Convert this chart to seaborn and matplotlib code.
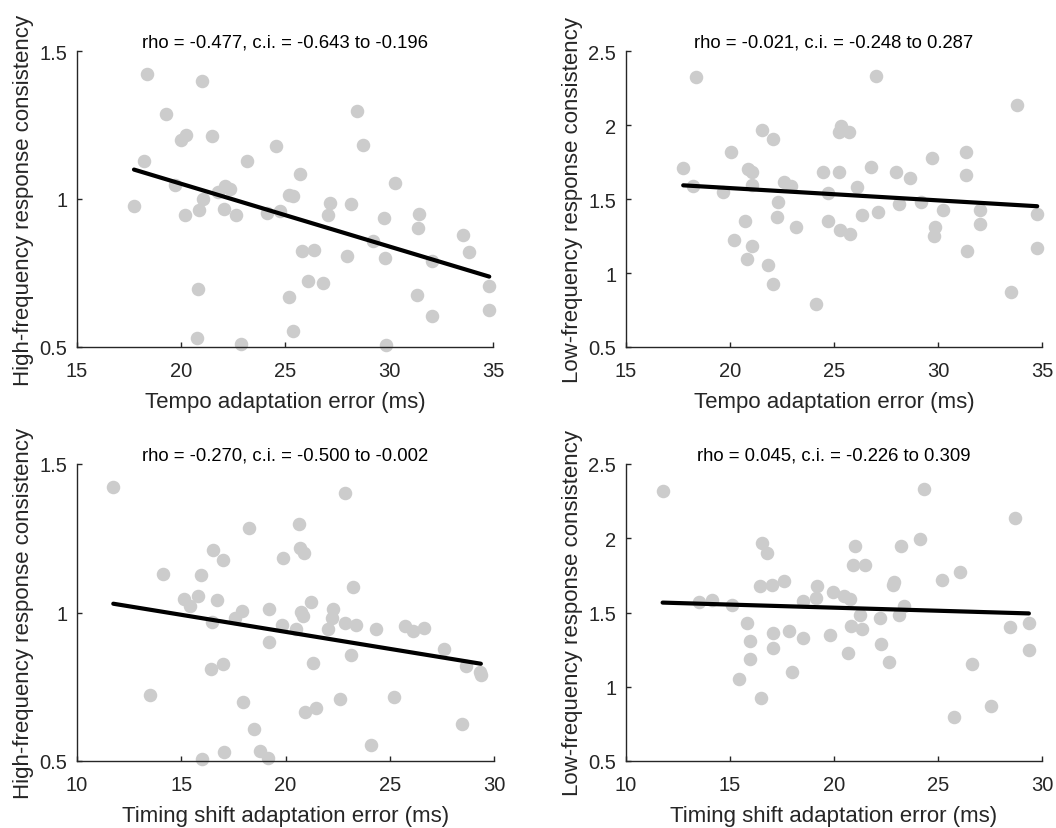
import numpy as np
import pandas as pd
import matplotlib
matplotlib.use("Agg")
import matplotlib.pyplot as plt
from matplotlib.ticker import FuncFormatter, FixedLocator
import seaborn as sns

# ---------------- data ----------------
# Panel A: tempo adaptation error vs high-frequency response consistency
tempo_err_a = [18.38, 21.02, 19.28, 19.98, 20.24, 21.5, 24.57, 18.22, 23.16, 17.74,
               19.71, 21.07, 20.19, 20.88, 21.79, 22.12, 22.36, 22.07, 22.64, 24.12,
               24.76, 25.2, 25.4, 20.83, 25.2, 20.75, 22.87, 25.37, 28.48, 28.73,
               25.72, 27.16, 27.08, 28.16, 30.29, 29.76, 29.25, 31.46, 31.41, 25.8,
               26.39, 28.0, 29.8, 32.05, 33.54, 33.83, 34.82, 34.82, 26.12, 26.81,
               31.36, 32.05, 29.86]
hf_cons_a = [1.422, 1.400, 1.287, 1.200, 1.216, 1.212, 1.178, 1.129, 1.127, 0.977,
             1.047, 1.0, 0.946, 0.963, 1.023, 1.045, 1.034, 0.966, 0.946, 0.953,
             0.960, 1.013, 1.011, 0.696, 0.668, 0.529, 0.510, 0.555, 1.298, 1.182,
             1.084, 0.986, 0.946, 0.983, 1.054, 0.936, 0.859, 0.949, 0.901, 0.825,
             0.829, 0.808, 0.800, 0.792, 0.878, 0.820, 0.707, 0.626, 0.722, 0.716,
             0.677, 0.606, 0.507]

# Panel B: tempo adaptation error vs low-frequency response consistency
tempo_err_b = [18.36, 21.52, 22.08, 20.03, 17.75, 20.87, 21.08, 18.23, 21.08, 19.67,
               22.59, 22.95, 22.32, 22.24, 20.72, 23.17, 20.19, 21.08, 20.83, 21.84,
               22.08, 24.13, 24.47, 27.04, 33.79, 25.36, 25.25, 25.72, 31.33, 31.33,
               29.70, 25.25, 26.80, 27.97, 28.67, 26.11, 24.72, 29.20, 28.13, 30.24,
               32.03, 34.77, 32.03, 26.37, 27.12, 24.72, 29.84, 29.79, 25.31, 25.76,
               31.39, 34.77, 33.49]
lf_cons_b = [2.322, 1.968, 1.905, 1.815, 1.712, 1.703, 1.685, 1.586, 1.595, 1.549,
             1.613, 1.590, 1.482, 1.376, 1.353, 1.309, 1.225, 1.180, 1.095, 1.054,
             0.926, 0.791, 1.684, 2.333, 2.135, 1.995, 1.951, 1.951, 1.816, 1.664,
             1.775, 1.685, 1.718, 1.680, 1.640, 1.579, 1.538, 1.482, 1.466, 1.428,
             1.428, 1.399, 1.331, 1.392, 1.410, 1.353, 1.309, 1.248, 1.293, 1.264,
             1.151, 1.167, 0.874]

# Panel C: timing shift adaptation error vs high-frequency response consistency
shift_err_c = [11.74, 18.27, 16.51, 16.99, 19.90, 14.11, 15.94, 15.13, 15.42, 15.82,
               16.73, 17.9, 17.58, 16.46, 19.23, 19.82, 19.23, 16.42, 17.02, 13.5,
               17.98, 18.49, 15.98, 17.05, 18.78, 19.18, 22.83, 20.65, 20.70, 20.89,
               23.26, 21.23, 20.73, 20.83, 22.3, 22.22, 22.03, 20.51, 22.86, 23.39,
               24.33, 25.74, 26.11, 26.65, 27.58, 28.67, 29.34, 29.37, 23.13, 21.31,
               22.62, 25.18, 20.94, 21.47, 28.46, 24.09]
hf_cons_c = [1.421, 1.286, 1.211, 1.177, 1.182, 1.129, 1.126, 1.045, 1.022, 1.056,
             1.042, 1.005, 0.983, 0.968, 1.013, 0.957, 0.901, 0.809, 0.826, 0.722,
             0.697, 0.607, 0.508, 0.530, 0.534, 0.511, 1.401, 1.297, 1.216, 1.200,
             1.086, 1.034, 1.002, 0.989, 1.011, 0.983, 0.946, 0.944, 0.964, 0.957,
             0.946, 0.953, 0.938, 0.949, 0.876, 0.820, 0.800, 0.789, 0.857, 0.831,
             0.708, 0.717, 0.666, 0.678, 0.624, 0.554]

# Panel D: timing shift adaptation error vs low-frequency response consistency
shift_err_d = [11.76, 16.52, 16.79, 16.44, 17.0, 17.59, 19.16, 19.13, 13.52, 14.12,
               15.12, 18.49, 15.83, 15.96, 17.05, 17.84, 18.52, 17.05, 15.96, 18.0,
               15.44, 16.47, 24.31, 28.68, 24.12, 23.24, 21.0, 20.89, 21.48, 25.21,
               26.08, 22.87, 22.84, 19.93, 20.47, 20.76, 23.35, 21.24, 23.13, 22.2,
               20.84, 21.37, 19.80, 20.68, 22.28, 22.63, 28.44, 29.37, 29.37, 26.63,
               27.56, 25.75]
lf_cons_d = [2.319, 1.967, 1.904, 1.679, 1.684, 1.709, 1.679, 1.601, 1.571, 1.585,
             1.549, 1.578, 1.428, 1.309, 1.361, 1.376, 1.327, 1.259, 1.185, 1.096,
             1.055, 0.927, 2.331, 2.133, 1.994, 1.945, 1.945, 1.819, 1.819, 1.720,
             1.774, 1.706, 1.684, 1.639, 1.612, 1.590, 1.545, 1.482, 1.482, 1.466,
             1.410, 1.392, 1.349, 1.230, 1.291, 1.167, 1.399, 1.428, 1.248, 1.152,
             0.871, 0.797]

titles = ["rho = -0.477, c.i. = -0.643 to -0.196",
          "rho = -0.021, c.i. = -0.248 to 0.287",
          "rho = -0.270, c.i. = -0.500 to -0.002",
          "rho = 0.045, c.i. = -0.226 to 0.309"]
xlabels = ["Tempo adaptation error (ms)", "Tempo adaptation error (ms)",
           "Timing shift adaptation error (ms)", "Timing shift adaptation error (ms)"]
ylabels = ["High-frequency response consistency", "Low-frequency response consistency",
           "High-frequency response consistency", "Low-frequency response consistency"]
xticks_top = [15, 20, 25, 30, 35]
xticks_bottom = [10, 15, 20, 25, 30]
yticks_hf = [0.5, 1, 1.5]
yticks_lf = [0.5, 1, 1.5, 2, 2.5]

# ---------------- style ----------------
sns.set_style("ticks")
plt.rcParams['font.family'] = ['Liberation Sans', 'DejaVu Sans']
DARK = '#262626'
DOT = '#CCCCCC'

W, H = 1056, 829
fig = plt.figure(figsize=(W / 100, H / 100), dpi=100)


def pos(l, t, r, b):
    return [l / W, 1 - b / H, (r - l) / W, (b - t) / H]


panels = [
    (tempo_err_a, hf_cons_a, pos(77, 52, 493, 348), xticks_top, yticks_hf),
    (tempo_err_b, lf_cons_b, pos(626, 52, 1042, 348), xticks_top, yticks_lf),
    (shift_err_c, hf_cons_c, pos(77, 465, 494, 762), xticks_bottom, yticks_hf),
    (shift_err_d, lf_cons_d, pos(626, 465, 1042, 762), xticks_bottom, yticks_lf),
]

fmt = FuncFormatter(lambda v, p: f"{v:g}")

for i, (xs, ys, p, xt, yt) in enumerate(panels):
    ax = fig.add_axes(p)
    df = pd.DataFrame({"x": xs, "y": ys})
    sns.regplot(data=df, x="x", y="y", ax=ax, ci=None, truncate=True,
                scatter_kws=dict(s=95, color=DOT, alpha=1, linewidths=0,
                                 clip_on=False, zorder=2),
                line_kws=dict(color='black', lw=3, zorder=3))
    ax.set_xlim(xt[0], xt[-1])
    ax.set_ylim(yt[0], yt[-1])
    ax.xaxis.set_major_locator(FixedLocator(xt))
    ax.yaxis.set_major_locator(FixedLocator(yt))
    ax.xaxis.set_major_formatter(fmt)
    ax.yaxis.set_major_formatter(fmt)
    sns.despine(ax=ax)
    for s in ("left", "bottom"):
        ax.spines[s].set_color(DARK)
        ax.spines[s].set_linewidth(1.0)
    ax.tick_params(direction='in', length=3.5, width=1, color=DARK,
                   labelsize=14.5, labelcolor=DARK)
    ax.tick_params(axis='x', pad=10)
    ax.tick_params(axis='y', pad=7)
    ax.set_xlabel(xlabels[i], fontsize=16, color=DARK, labelpad=8)
    ax.set_ylabel(ylabels[i], fontsize=16, color=DARK, labelpad=4)
    ax.set_title(titles[i], fontsize=13.3, color='black', pad=2)

fig.savefig("out.png", dpi=100)
